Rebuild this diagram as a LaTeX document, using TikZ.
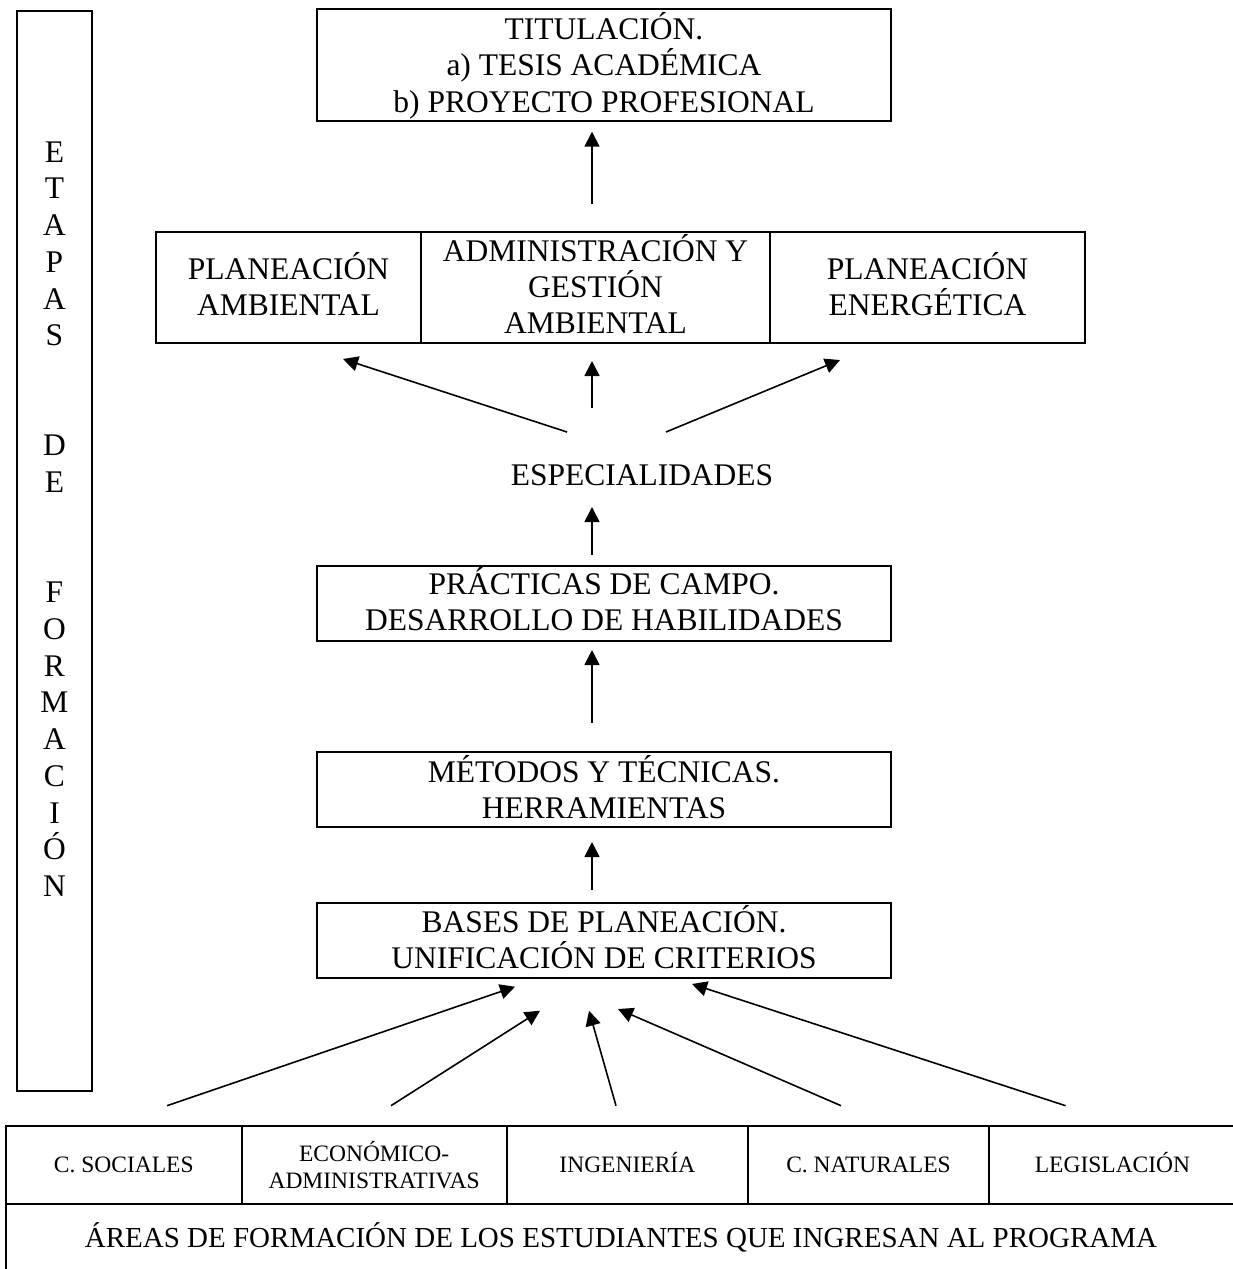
\documentclass[tikz,border=0pt]{standalone}
\usepackage{fontspec}
\setmainfont{Liberation Serif}
\usetikzlibrary{arrows.meta}
\newcommand\mainfnt{\fontsize{31.5}{36.4}\selectfont}
\newcommand\vertfnt{\fontsize{31.5}{36.72}\selectfont}
\newcommand\cellfnt{\fontsize{23.5}{26.7}\selectfont}
\newcommand\areafnt{\fontsize{29}{34}\selectfont}
\begin{document}
\begin{tikzpicture}[x=1pt,y=-1pt,
  box/.style={draw, line width=2pt, inner sep=0pt, align=center, font=\mainfnt, text depth=7pt},
  plain/.style={inner sep=0pt, align=center, font=\mainfnt},
  cell/.style={draw, line width=2pt, inner sep=0pt, align=center, font=\cellfnt, minimum height=78pt},
  onecell/.style={cell, text height=15.6pt, text depth=0pt},
  arr/.style={line width=1.6pt, -{Triangle[length=15pt,width=15pt]}}]
\useasboundingbox (0,0) rectangle (1233,1269);
\clip (0,0) rectangle (1233,1269);

% left vertical box
\node[draw, line width=1.8pt, minimum width=75pt, minimum height=1080pt, inner sep=0pt] (etapas) at (54.5,551) {};
\node[inner sep=0pt, align=center, font=\vertfnt] (etapastxt) at (54.5,519)
  {E\\T\\A\\P\\A\\S\\~\\~\\D\\E\\~\\~\\F\\O\\R\\M\\A\\C\\I\\Ó\\N};

% top box
\node[box, text depth=5.6pt, minimum width=574pt, minimum height=112pt] (tit) at (604,65)
  {TITULACIÓN.\\a) TESIS ACADÉMICA\\b) PROYECTO PROFESIONAL};

% specialties
\node[box, minimum width=265pt, minimum height=111pt] (pa) at (288.5,287.5) {PLANEACIÓN\\AMBIENTAL};
\node[box, minimum width=349pt, minimum height=111pt] (ag) at (595.5,287.5) {ADMINISTRACIÓN Y\\GESTIÓN\\AMBIENTAL};
\node[box, minimum width=315pt, minimum height=111pt] (pe) at (927.5,287.5) {PLANEACIÓN\\ENERGÉTICA};

\node[plain] (esp) at (642,475) {ESPECIALIDADES};

\node[box, text depth=8.6pt, minimum width=574pt, minimum height=75pt] (pr) at (604,603.5) {PRÁCTICAS DE CAMPO.\\DESARROLLO DE HABILIDADES};
\node[box, text depth=4.6pt, minimum width=574pt, minimum height=75pt] (me) at (604,789.5) {MÉTODOS Y TÉCNICAS.\\HERRAMIENTAS};
\node[box, minimum width=574pt, minimum height=75pt] (ba) at (604,940.5) {BASES DE PLANEACIÓN.\\UNIFICACIÓN DE CRITERIOS};

% bottom table
\node[onecell, minimum width=235.5pt] (cs) at (123.75,1165) {C. SOCIALES};
\node[cell, minimum width=265.2pt] (ea) at (374.1,1165) {ECONÓMICO-\\ADMINISTRATIVAS};
\node[onecell, minimum width=241.3pt] (ing) at (627.35,1165) {INGENIERÍA};
\node[onecell, minimum width=241pt] (cn) at (868.5,1165) {C. NATURALES};
\node[onecell, minimum width=247pt] (le) at (1112.5,1165) {LEGISLACIÓN};
\node[draw, line width=2pt, inner sep=0pt, align=center, font=\areafnt, text height=17pt, text depth=0pt,
      minimum width=1230pt, minimum height=70pt] (area) at (621,1239)
  {ÁREAS DE FORMACIÓN DE LOS ESTUDIANTES QUE INGRESAN AL PROGRAMA};

% arrow end points
\coordinate (a1s) at (592,204);   \coordinate (a1e) at (592,131.7);
\coordinate (a2s) at (567,432);   \coordinate (a2e) at (343,359);
\coordinate (a3s) at (592,408);   \coordinate (a3e) at (592,361);
\coordinate (a4s) at (666,432);   \coordinate (a4e) at (840,360);
\coordinate (a5s) at (592,555);   \coordinate (a5e) at (592,507);
\coordinate (a6s) at (592,722.7); \coordinate (a6e) at (592,650);
\coordinate (a7s) at (592,890);   \coordinate (a7e) at (592,842);
\coordinate (b1s) at (167,1105.7);  \coordinate (b1e) at (515,986.7);
\coordinate (b2s) at (391,1105.7);  \coordinate (b2e) at (540,1010.7);
\coordinate (b3s) at (616,1105.7);  \coordinate (b3e) at (589,1010.7);
\coordinate (b4s) at (841,1105.7);  \coordinate (b4e) at (618,1009);
\coordinate (b5s) at (1065.6,1105.7); \coordinate (b5e) at (692,984);

\foreach \a in {a1,a2,a3,a4,a5,a6,a7,b1,b2,b3,b4,b5}
  \draw[arr] (\a s) -- (\a e);
\end{tikzpicture}
\end{document}
